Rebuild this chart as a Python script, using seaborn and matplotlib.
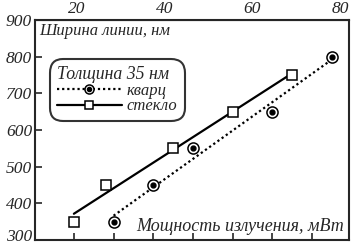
import numpy as np
import pandas as pd
import matplotlib
matplotlib.use('Agg')
import matplotlib.pyplot as plt
import matplotlib.transforms as mtransforms
import seaborn as sns
from matplotlib.lines import Line2D

# данные (мВт, нм)
quartz_x = [30, 40, 50, 70, 85]
quartz_y = [350, 450, 550, 650, 800]
glass_x = [20, 28, 45, 60, 75]
glass_y = [350, 450, 550, 650, 750]
series_names = ['кварц', 'стекло']
legend_title = 'Толщина 35 нм'
x_label = 'Мощность излучения, мВт'
y_label = 'Ширина линии, нм'
y_ticks = [300, 400, 500, 600, 700, 800, 900]
bottom_ticks = [20, 30, 40, 50, 60, 70, 80]
top_ticks = [20, 40, 60, 80]

df_q = pd.DataFrame({'x': quartz_x, 'y': quartz_y})
df_g = pd.DataFrame({'x': glass_x, 'y': glass_y})

sns.set_style('ticks')
plt.rcParams['font.family'] = ['Liberation Serif', 'DejaVu Serif']
plt.rcParams['font.style'] = 'italic'

fig = plt.figure(figsize=(3.53, 2.45), dpi=100)
ax = fig.add_axes([0.099, 0.0204, 0.89, 0.898])

# линии регрессии
sns.regplot(x='x', y='y', data=df_q, ax=ax, ci=None, truncate=True, scatter=False,
            line_kws=dict(color='black', lw=1.6, ls=(0, (1, 1.3))))
sns.regplot(x='x', y='y', data=df_g, ax=ax, ci=None, truncate=True, scatter=False,
            line_kws=dict(color='black', lw=1.6, ls='-'))

# точки
ax.plot(quartz_x, quartz_y, ls='none', marker='o', ms=8, mfc='white', mec='black', mew=1.1)
ax.plot(quartz_x, quartz_y, ls='none', marker='o', ms=3.5, mfc='black', mec='black')
ax.plot(glass_x, glass_y, ls='none', marker='s', ms=7, mfc='white', mec='black', mew=1.1)

ax.set_xlim(10.2, 89.3)
ax.set_ylim(300, 900)
ax.set_xticks(bottom_ticks)
ax.set_xticklabels([])
ax.set_yticks(y_ticks)
ax.set_xlabel('')
ax.set_ylabel('')
ax.tick_params(axis='both', direction='in', length=5, width=1.2, labelsize=12.5)
ax.tick_params(axis='y', pad=2)
for s in ax.spines.values():
    s.set_visible(True)
    s.set_linewidth(1.5)

# чуть поднять нижнюю подпись
lab = ax.get_yticklabels()[0]
lab.set_transform(lab.get_transform() + mtransforms.ScaledTranslation(0, 5 / 100, fig.dpi_scale_trans))

# верхняя шкала
top = ax.secondary_xaxis('top', functions=(lambda b: 0.906 * b + 1.15,
                                           lambda t: (t - 1.15) / 0.906))
top.set_xticks(top_ticks)
top.tick_params(length=0, labelsize=12.5, pad=2)

ax.text(0.012, 0.985, y_label, transform=ax.transAxes, ha='left', va='top', fontsize=12)
ax.text(0.985, 0.025, x_label, transform=ax.transAxes, ha='right', va='bottom', fontsize=13)

h_q = (Line2D([], [], color='black', lw=1.6, ls=(0, (1, 1.3)), marker='o', ms=6.5,
              mfc='white', mec='black', mew=1.1),
       Line2D([], [], ls='none', marker='o', ms=3, mfc='black', mec='black'))
h_g = Line2D([], [], color='black', lw=1.6, ls='-', marker='s', ms=6, mfc='white',
             mec='black', mew=1.1)
leg = ax.legend([h_q, h_g], series_names, title=legend_title, loc='upper left',
                bbox_to_anchor=(0.07, 0.79), borderaxespad=0, fontsize=12,
                title_fontsize=12.8, handlelength=3.9, handletextpad=0.3,
                labelspacing=-0.05, borderpad=0.0, fancybox=True, frameon=True,
                alignment='left')
leg._legend_box.sep = 0
leg.get_frame().set_edgecolor('black')
leg.get_frame().set_linewidth(1.5)
leg.get_frame().set_boxstyle('round', pad=0.42, rounding_size=0.8)

fig.savefig('out.png', dpi=100)
